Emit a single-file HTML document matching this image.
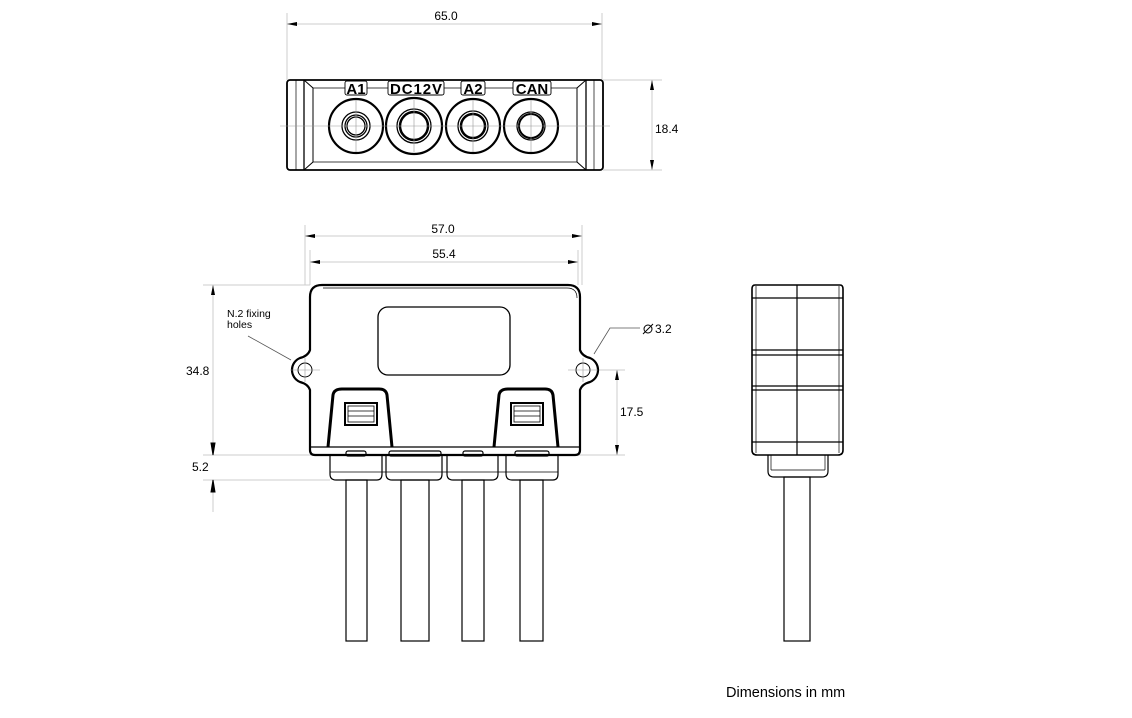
<!DOCTYPE html>
<html><head><meta charset="utf-8"><style>
html,body{margin:0;padding:0;background:#fff;}
svg{display:block;font-family:"Liberation Sans",sans-serif;}
</style></head><body>
<svg width="1132" height="718" viewBox="0 0 1132 718" xmlns="http://www.w3.org/2000/svg">
<defs>
<marker id="ar" viewBox="0 0 10 4" refX="10" refY="2" markerWidth="14" markerHeight="4" markerUnits="userSpaceOnUse" orient="auto-start-reverse"><path d="M0,0 L10,2 L0,4 z" fill="#000"/></marker>
</defs>
<g stroke="#ccc" stroke-width="1" fill="none">
<line x1="287" y1="13" x2="287" y2="80"/><line x1="602" y1="13" x2="602" y2="80"/>
<line x1="603" y1="80" x2="662" y2="80"/><line x1="603" y1="170" x2="662" y2="170"/>
<line x1="305" y1="225" x2="305" y2="285"/><line x1="582" y1="225" x2="582" y2="285"/>
<line x1="310" y1="250" x2="310" y2="285"/><line x1="578" y1="250" x2="578" y2="285"/>
<line x1="203" y1="285" x2="310" y2="285"/>
<line x1="203" y1="455" x2="330" y2="455"/><line x1="560" y1="455" x2="625" y2="455"/>
<line x1="203" y1="480" x2="330" y2="480"/>
<line x1="213" y1="480" x2="213" y2="512"/>
<line x1="598" y1="370" x2="625" y2="370"/>
</g>
<g stroke="#ccc" stroke-width="1" fill="none">
<line x1="287" y1="24" x2="602" y2="24" marker-start="url(#ar)" marker-end="url(#ar)"/>
<line x1="652" y1="80" x2="652" y2="170" marker-start="url(#ar)" marker-end="url(#ar)"/>
<line x1="305" y1="236" x2="582" y2="236" marker-start="url(#ar)" marker-end="url(#ar)"/>
<line x1="310" y1="262" x2="578" y2="262" marker-start="url(#ar)" marker-end="url(#ar)"/>
<line x1="213" y1="285" x2="213" y2="455" marker-start="url(#ar)" marker-end="url(#ar)"/>
<line x1="617" y1="370" x2="617" y2="455" marker-start="url(#ar)" marker-end="url(#ar)"/>
</g>
<g stroke="#000" fill="#000"><path d="M213,455 l-2,-12 l4,0 z"/><path d="M213,480 l-2,12 l4,0 z"/></g>
<g font-size="12" fill="#000">
<text x="446" y="20" text-anchor="middle">65.0</text>
<text x="655" y="133">18.4</text>
<text x="443" y="233" text-anchor="middle">57.0</text>
<text x="444" y="258" text-anchor="middle">55.4</text>
<text x="186" y="375">34.8</text>
<text x="192" y="471">5.2</text>
<text x="620" y="416">17.5</text>
<text x="227" y="317" font-size="10.5">N.2 fixing</text>
<text x="227" y="328" font-size="10.5">holes</text>
<text x="655" y="333">3.2</text>
<text x="726" y="697" font-size="14.5">Dimensions in mm</text>
</g>
<circle cx="648" cy="329" r="4" fill="none" stroke="#000" stroke-width="1"/><line x1="643" y1="334" x2="653" y2="324" stroke="#000"/>
<g stroke="#555" stroke-width="0.8" fill="none">
<line x1="248" y1="336" x2="291" y2="360"/>
<polyline points="640,328 610,328 594,354"/>
</g>
<!-- TOP VIEW -->
<g fill="none" stroke="#000" stroke-width="1.3">
<rect x="287" y="80" width="316" height="90" rx="3" stroke-width="1.8"/>
<line x1="296" y1="80" x2="296" y2="170" stroke-width="0.7"/><line x1="594" y1="80" x2="594" y2="170" stroke-width="0.7"/>
<path d="M304,80 L313,88 V162 L304,170" stroke-width="1"/>
<path d="M586,80 L577,88 V162 L586,170" stroke-width="1"/>
<line x1="304" y1="80" x2="304" y2="170"/><line x1="586" y1="80" x2="586" y2="170"/>
<line x1="313" y1="88" x2="577" y2="88" stroke-width="0.7"/><line x1="313" y1="162" x2="577" y2="162" stroke-width="0.7"/>
<circle cx="356" cy="126" r="27" stroke-width="2.2"/><circle cx="356" cy="126" r="14"/><circle cx="356" cy="126" r="11"/><circle cx="356" cy="126" r="9"/>
<circle cx="414" cy="126" r="28" stroke-width="2.2"/><circle cx="414" cy="126" r="17"/><circle cx="414" cy="126" r="14" stroke-width="2.5"/>
<circle cx="473" cy="126" r="27" stroke-width="2.2"/><circle cx="473" cy="126" r="15"/><circle cx="473" cy="126" r="12" stroke-width="2.5"/>
<circle cx="531" cy="126" r="27" stroke-width="2.2"/><circle cx="531" cy="126" r="14"/><circle cx="531" cy="126" r="12" stroke-width="2"/>
</g>
<g stroke="#999" stroke-width="0.6"><line x1="280" y1="126" x2="610" y2="126"/>
<line x1="356" y1="100" x2="356" y2="152"/><line x1="414" y1="100" x2="414" y2="152"/><line x1="473" y1="100" x2="473" y2="152"/><line x1="531" y1="100" x2="531" y2="152"/></g>
<g font-weight="bold" font-size="15" text-anchor="middle" fill="#fff" stroke="#000" stroke-width="0.9">
<rect x="345" y="81" width="22" height="14" rx="2" fill="#fff"/><text x="356" y="94" fill="#000" stroke="none">A1</text>
<rect x="388" y="81" width="56" height="14" rx="2" fill="#fff"/><text x="416" y="94" fill="#000" stroke="none" textLength="52">DC12V</text>
<rect x="461" y="81" width="24" height="14" rx="2" fill="#fff"/><text x="473" y="94" fill="#000" stroke="none">A2</text>
<rect x="513" y="81" width="38" height="14" rx="2" fill="#fff"/><text x="532" y="94" fill="#000" stroke="none">CAN</text>
</g>
<!-- FRONT VIEW -->
<g fill="none" stroke="#000">
<path d="M322,285 H568 Q580,285 580,297 V350 Q582,356 590,358 A13,13 0 0 1 590,382 Q582,384 580,390 V450 Q580,455 575,455 H315 Q310,455 310,450 V390 Q308,384 300,382 A13,13 0 0 1 300,358 Q308,356 310,350 V297 Q310,285 322,285 Z" stroke-width="2.2"/>
<path d="M323,288 H567 Q577,288 577,298" stroke-width="0.7"/>
<rect x="378" y="307" width="132" height="68" rx="10" stroke-width="1.3"/>
<circle cx="305" cy="370" r="7" stroke-width="1"/><circle cx="583" cy="370" r="7" stroke-width="1"/>
<line x1="310" y1="447" x2="580" y2="447" stroke-width="1.3"/>
<path d="M328,447 L333,395 Q334,389 342,389 H379 Q386,389 387,395 L392,447" stroke-width="3"/>
<path d="M494,447 L499,395 Q500,389 508,389 H545 Q552,389 553,395 L558,447" stroke-width="3"/>
<rect x="345" y="403" width="32" height="22" stroke-width="2"/><rect x="348" y="406" width="26" height="16" stroke-width="0.8"/>
<line x1="348" y1="411" x2="374" y2="411" stroke-width="0.8"/><line x1="348" y1="416" x2="374" y2="416" stroke-width="0.8"/>
<rect x="511" y="403" width="32" height="22" stroke-width="2"/><rect x="514" y="406" width="26" height="16" stroke-width="0.8"/>
<line x1="514" y1="411" x2="540" y2="411" stroke-width="0.8"/><line x1="514" y1="416" x2="540" y2="416" stroke-width="0.8"/>
<g stroke-width="1.2">
<path d="M330,455 V474 Q330,480 336,480 H377 Q382,480 382,474 V455"/>
<path d="M386,455 V474 Q386,480 392,480 H437 Q442,480 442,474 V455"/>
<path d="M447,455 V474 Q447,480 453,480 H492 Q498,480 498,474 V455"/>
<path d="M506,455 V474 Q506,480 512,480 H553 Q558,480 558,474 V455"/>
<line x1="330" y1="472" x2="558" y2="472" stroke-width="0.8"/>
<rect x="346" y="451" width="20" height="5" rx="2"/><rect x="389" y="451" width="52" height="5" rx="2"/><rect x="463" y="451" width="20" height="5" rx="2"/><rect x="515" y="451" width="34" height="5" rx="2"/>
<rect x="346" y="480" width="21" height="161"/><rect x="401" y="480" width="28" height="161"/><rect x="462" y="480" width="22" height="161"/><rect x="520" y="480" width="23" height="161"/>
</g>
</g>
<g stroke="#999" stroke-width="0.6"><line x1="290" y1="370" x2="320" y2="370"/><line x1="305" y1="358" x2="305" y2="382"/><line x1="568" y1="370" x2="598" y2="370"/><line x1="583" y1="358" x2="583" y2="382"/></g>
<!-- SIDE VIEW -->
<g fill="none" stroke="#000" stroke-width="1.2">
<path d="M755,285 H840 Q843,285 843,289 V450 Q843,455 838,455 H757 Q752,455 752,450 V289 Q752,285 755,285 Z" stroke-width="1.6"/>
<line x1="756" y1="286" x2="756" y2="453" stroke-width="0.7"/><line x1="839" y1="286" x2="839" y2="453" stroke-width="0.7"/>
<line x1="797" y1="285" x2="797" y2="455"/>
<line x1="752" y1="298" x2="843" y2="298"/>
<line x1="752" y1="350" x2="843" y2="350"/><line x1="752" y1="355" x2="843" y2="355"/>
<line x1="752" y1="386" x2="843" y2="386"/><line x1="752" y1="390" x2="843" y2="390"/>
<line x1="752" y1="442" x2="843" y2="442"/>
<path d="M768,455 V471 Q768,477 774,477 H822 Q828,477 828,471 V455"/>
<line x1="771" y1="455" x2="771" y2="470" stroke-width="0.7"/><line x1="825" y1="455" x2="825" y2="470" stroke-width="0.7"/>
<line x1="771" y1="470" x2="825" y2="470" stroke-width="0.7"/>
<rect x="784" y="477" width="26" height="164"/>
</g>
</svg>
</body></html>
